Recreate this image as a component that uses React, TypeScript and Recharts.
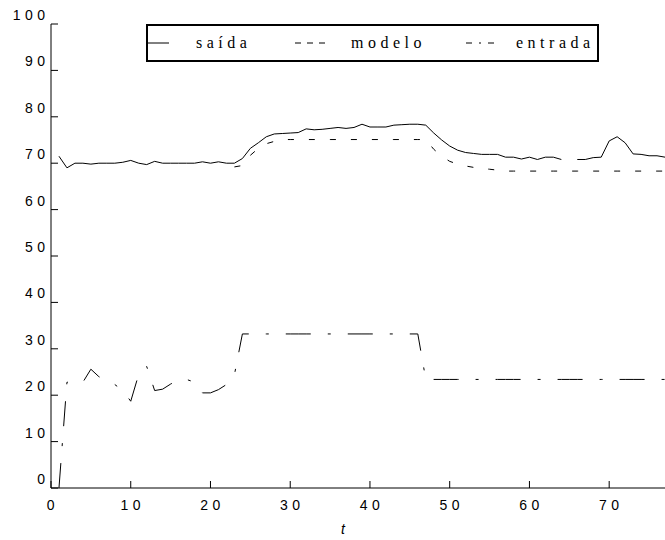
import { LineChart, Line, XAxis, YAxis, Legend } from "recharts";

// time index (samples 1..77)
const time = Array.from({ length: 77 }, (_, i) => i + 1);

const saida = [
  71.5, 69, 70, 70, 69.8, 70, 70, 70, 70.2, 70.6,
  70, 69.7, 70.4, 70, 70, 70, 70, 70, 70.3, 70,
  70.3, 70, 70, 71, 73.2, 74.4, 75.7, 76.3, 76.4, 76.5,
  76.6, 77.4, 77.2, 77.3, 77.5, 77.7, 77.5, 77.7, 78.4, 77.8,
  77.8, 77.8, 78.2, 78.3, 78.4, 78.4, 78.2, 76.5, 75, 73.7,
  72.8, 72.3, 72.1, 71.9, 71.9, 71.9, 71.3, 71.3, 70.9, 71.3,
  70.8, 71.3, 71.3, 70.8, null, 70.8, 70.8, 71.2, 71.3, 74.8,
  75.7, 74.4, 72, 71.9, 71.6, 71.6, 71.3,
];

const modelo = [
  null, null, null, null, null, null, null, null, null, null,
  null, null, null, null, null, null, null, null, null, null,
  null, null, 69.2, 69.5, 71.7, 73.2, 74.2, 74.7, 75.1, 75.1,
  75.1, 75.1, 75.1, 75.1, 75.1, 75.1, 75.1, 75.1, 75.1, 75.1,
  75.1, 75.1, 75.1, 75.1, 75.1, 75.1, 75.1, 73, 71.5, 70.4,
  69.8, 69.4, 69.1, 68.9, 68.7, 68.5, 68.3, 68.3, 68.3, 68.3,
  68.3, 68.3, 68.3, 68.3, 68.3, 68.3, 68.3, 68.3, 68.3, 68.3,
  68.3, 68.3, 68.3, 68.3, 68.3, 68.3, 68.3,
];

const entrada = [
  0, 22.8, 22.8, 22.8, 25.6, 24, 23, 22.3, 21, 18.7,
  24.5, 26.2, 21, 21.3, 22.4, 23.3, 23.4, 22.8, 20.5, 20.5,
  21.2, 22.3, 24.4, 33.2, 33.2, 33.2, 33.2, 33.2, 33.2, 33.2,
  33.2, 33.2, 33.2, 33.2, 33.2, 33.2, 33.2, 33.2, 33.2, 33.2,
  33.2, 33.2, 33.2, 33.2, 33.2, 33.2, 23.4, 23.4, 23.4, 23.4,
  23.4, 23.4, 23.4, 23.4, 23.4, 23.4, 23.4, 23.4, 23.4, 23.4,
  23.4, 23.4, 23.4, 23.4, 23.4, 23.4, 23.4, 23.4, 23.4, 23.4,
  23.4, 23.4, 23.4, 23.4, 23.4, 23.4, 23.4,
];

const xTicks = [0, 10, 20, 30, 40, 50, 60, 70];
const yTicks = [0, 10, 20, 30, 40, 50, 60, 70, 80, 90, 100];

const series = [
  { key: "saida", name: "saída", dash: undefined, sample: undefined },
  { key: "modelo", name: "modelo", dash: "6 15", sample: "6 6" },
  { key: "entrada", name: "entrada", dash: "25 17 3 17", sample: "6 7 2 7" },
];

const data = time.map((t, i) => ({
  t,
  saida: saida[i],
  modelo: modelo[i],
  entrada: entrada[i],
}));

const sans = '"Liberation Sans", Arial, sans-serif';
const serif = '"Liberation Serif", "Times New Roman", serif';

function BottomTick({ x, y, payload }: any) {
  return (
    <g>
      <line x1={x} y1={y} x2={x} y2={y - 7} stroke="#000" />
      <text x={x} y={y + 22} dx={2} textAnchor="middle" fill="#000"
        style={{ fontFamily: sans, fontSize: 14, letterSpacing: 4.5 }}>
        {payload.value}
      </text>
    </g>
  );
}

function TopTick({ x, y }: any) {
  return <line x1={x} y1={y} x2={x} y2={y + 7} stroke="#000" />;
}

function LeftTick({ x, y, payload }: any) {
  return (
    <g>
      <line x1={x} y1={y} x2={x + 7} y2={y} stroke="#000" />
      <text x={x - 1.5} y={y - 4} textAnchor="end" fill="#000"
        style={{ fontFamily: sans, fontSize: 14, letterSpacing: 4.5 }}>
        {payload.value}
      </text>
    </g>
  );
}

// legend sample / label x positions inside the box
const legendPos = [
  { line: [2, 23], text: 50 },
  { line: [149, 179], text: 205 },
  { line: [320, 352], text: 370 },
];

function LegendBox() {
  return (
    <svg width={453} height={38}>
      <rect x={1} y={1} width={451} height={36} fill="#fff" stroke="#000" strokeWidth={2} />
      {series.map((s, i) => (
        <g key={s.key}>
          <line x1={legendPos[i].line[0]} x2={legendPos[i].line[1]} y1={19} y2={19}
            stroke="#000" strokeDasharray={s.sample} />
          <text x={legendPos[i].text} y={24} fill="#000"
            style={{ fontFamily: serif, fontSize: 16, letterSpacing: 4.5 }}>
            {s.name}
          </text>
        </g>
      ))}
    </svg>
  );
}

export default function App() {
  return (
    <div style={{ position: "absolute", left: 0, top: 0, background: "#fff" }}>
      <LineChart width={665} height={540} data={data}
        margin={{ top: 24, right: 0, bottom: 0, left: 0 }}>
        <XAxis dataKey="t" type="number" domain={[0, 77]} ticks={xTicks}
          height={52} tickSize={0} tickMargin={0} tick={<BottomTick />}
          axisLine={{ stroke: "#000" }} tickLine={false}
          label={{ value: "t", position: "insideBottom", offset: 6, dx: -15,
            style: { fontFamily: sans, fontSize: 14, fontStyle: "italic", fill: "#000" } }} />
        <XAxis xAxisId="top" orientation="top" dataKey="t" type="number" domain={[0, 77]}
          ticks={xTicks} height={0} tickSize={0} tickMargin={0} tick={<TopTick />}
          axisLine={{ stroke: "#000" }} tickLine={false} />
        <YAxis type="number" domain={[0, 100]} ticks={yTicks} width={51}
          tickSize={0} tickMargin={0} tick={<LeftTick />}
          axisLine={{ stroke: "#000" }} tickLine={false} />
        <Legend layout="vertical" align="center" verticalAlign="middle"
          content={<LegendBox />}
          wrapperStyle={{ position: "absolute", top: 24, left: 146, width: 453, height: 38 }} />
        {series.map((s) => (
          <Line key={s.key} dataKey={s.key} name={s.name} type="linear"
            stroke="#000" strokeWidth={1} strokeDasharray={s.dash}
            dot={false} activeDot={false} isAnimationActive={false} />
        ))}
      </LineChart>
    </div>
  );
}
